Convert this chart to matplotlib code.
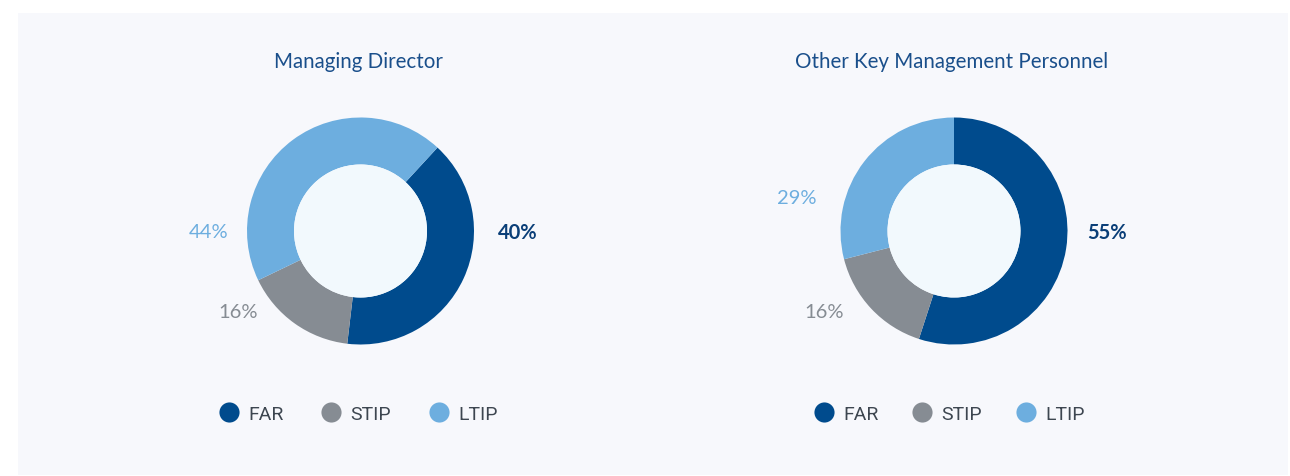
import matplotlib
matplotlib.use('Agg')
import matplotlib.pyplot as plt
from matplotlib.patches import Rectangle, Circle
from matplotlib.lines import Line2D

# data
categories = ['FAR', 'STIP', 'LTIP']
titles = ['Managing Director', 'Other Key Management Personnel']
md_values = [40, 16, 44]
okmp_values = [55, 16, 29]

colors = ['#004b8d', '#868c93', '#6daedf']
label_colors = ['#0b3f78', '#868c93', '#6daedf']

W, H = 1290, 477
fig = plt.figure(figsize=(W / 100, H / 100), dpi=100)
fig.patch.set_facecolor('white')
ax = fig.add_axes([0, 0, 1, 1])

# panel background
ax.add_patch(Rectangle((18, 1), 1270, 462, facecolor='#f7f8fc', edgecolor='none', zorder=0))

charts = [
    # values, center, start angle (deg, ccw from x), label offsets, legend x, col spacing
    (md_values, (360.5, 245), 47.3, [(157, -1), (-122, -80), (-152, -1)], 358.5, 1.95),
    (okmp_values, (954, 245), 90, [(153, -1), (-130, -80), (-157, 33)], 949.5, 1.75),
]

R_OUT = 113.5
R_IN = 66.5

for i, (vals, center, start, offs, lx, cs) in enumerate(charts):
    ax.pie(vals, colors=colors, startangle=start, counterclock=False,
           center=center, radius=R_OUT,
           wedgeprops=dict(width=R_OUT - R_IN, edgecolor='none', linewidth=0))
    ax.add_patch(Circle(center, R_IN, facecolor='#f2f9fd', edgecolor='none', zorder=3))
    ax.text(center[0] - 2, H - 62, titles[i], ha='center', va='center',
            fontsize=14.8, color='#1a4f8b', family='Lato')
    for j, v in enumerate(vals):
        ax.text(center[0] + offs[j][0], center[1] + offs[j][1], f'{v}%',
                ha='center', va='center', fontsize=14.5,
                fontweight='bold' if j == 0 else 'normal',
                color=label_colors[j], family='Lato')
    handles = [Line2D([], [], marker='o', linestyle='none', markersize=14.5,
                      markerfacecolor=c, markeredgecolor='none') for c in colors]
    fig.legend(handles, categories, ncol=3, frameon=False,
               loc='center', bbox_to_anchor=(lx / W, 1 - 415 / H),
               handletextpad=0.5, columnspacing=cs, handlelength=1.0,
               prop={'family': 'Roboto', 'size': 14}, labelcolor='#3d4650')

ax.set_xlim(0, W)
ax.set_ylim(0, H)
ax.set_aspect('equal')
ax.axis('off')

fig.savefig('out.png', dpi=100, facecolor='white')
